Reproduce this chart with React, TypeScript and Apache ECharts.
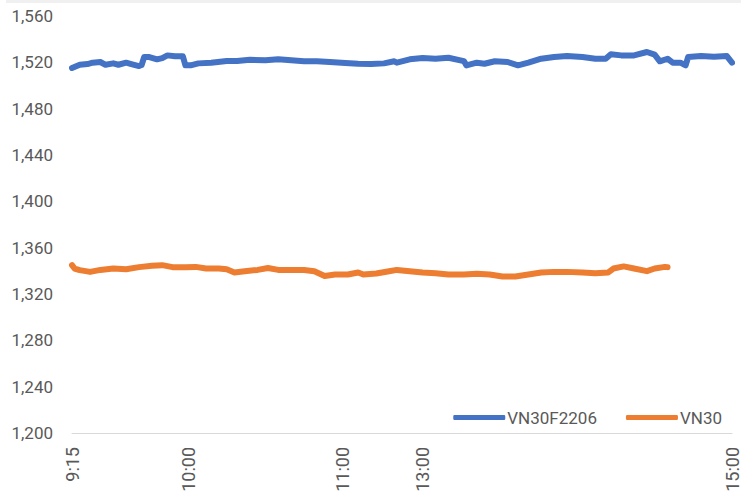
import React, { useEffect, useRef } from "react";
import * as echarts from "echarts";

// Trading sessions (category axis: one category per minute)
const morningSession = ["9:15", "11:30"];
const afternoonSession = ["13:00", "15:00"];
const shownTicks = ["9:15", "10:00", "11:00", "13:00", "15:00"];

// Y axis ticks
const yMin = 1200;
const yMax = 1560;
const yStep = 40;

// VN30F2206 (blue)
const futTimes = [
  "9:15", "9:18", "9:21", "9:23", "9:26", "9:28", "9:31", "9:33", "9:36", "9:38",
  "9:41", "9:42", "9:43", "9:45", "9:48", "9:50", "9:52", "9:55", "9:58", "9:59",
  "10:01", "10:04", "10:09", "10:15", "10:19", "10:24", "10:30", "10:35", "10:40", "10:45",
  "10:50", "10:55", "11:01", "11:06", "11:11", "11:16", "11:20", "11:21", "11:26", "13:00",
  "13:05", "13:10", "13:16", "13:17", "13:21", "13:24", "13:28", "13:33", "13:37", "13:41",
  "13:46", "13:51", "13:56", "14:02", "14:07", "14:11", "14:13", "14:17", "14:22", "14:27",
  "14:30", "14:32", "14:35", "14:37", "14:40", "14:42", "14:43", "14:48", "14:53", "14:58",
  "15:00",
];
const futValues = [
  1515.1, 1517.9, 1518.5, 1519.7, 1520.3, 1517.9, 1519.1, 1517.9, 1519.7, 1518.5,
  1516.8, 1517.7, 1524.6, 1524.6, 1522.6, 1523.7, 1526.0, 1525.2, 1525.2, 1517.4,
  1517.4, 1519.1, 1519.7, 1521.1, 1521.1, 1522.2, 1521.7, 1522.6, 1521.7, 1520.9,
  1520.9, 1520.3, 1519.4, 1518.8, 1518.5, 1519.1, 1520.9, 1519.7, 1522.6, 1523.7,
  1523.1, 1524.0, 1521.1, 1517.4, 1519.7, 1518.8, 1520.9, 1520.3, 1517.4, 1519.7,
  1523.1, 1524.6, 1525.4, 1524.6, 1523.1, 1523.1, 1526.9, 1526.0, 1526.0, 1528.9,
  1526.6, 1520.9, 1523.1, 1519.7, 1519.7, 1517.4, 1524.6, 1525.4, 1524.8, 1525.4,
  1519.7,
];

// VN30 (orange)
const idxTimes = [
  "9:15", "9:16", "9:18", "9:22", "9:26", "9:31", "9:36", "9:41", "9:46", "9:50",
  "9:54", "9:59", "10:03", "10:07", "10:12", "10:15", "10:18", "10:22", "10:27", "10:31",
  "10:35", "10:40", "10:45", "10:49", "10:53", "10:57", "11:02", "11:06", "11:08", "11:13",
  "11:18", "11:21", "11:26", "13:00", "13:05", "13:10", "13:16", "13:21", "13:26", "13:31",
  "13:36", "13:41", "13:46", "13:51", "13:56", "14:02", "14:07", "14:12", "14:14", "14:18",
  "14:22", "14:27", "14:30", "14:34", "14:35",
];
const idxValues = [
  1344.9, 1342.0, 1340.6, 1339.1, 1340.8, 1342.0, 1341.4, 1343.2, 1344.3, 1344.9,
  1343.2, 1343.2, 1343.4, 1342.0, 1342.0, 1341.4, 1338.6, 1339.7, 1340.8, 1342.5,
  1340.8, 1340.8, 1340.8, 1339.7, 1335.6, 1336.8, 1336.8, 1338.6, 1336.8, 1337.7,
  1339.7, 1340.8, 1339.7, 1338.6, 1338.0, 1336.8, 1336.8, 1337.4, 1336.8, 1335.1,
  1335.1, 1336.8, 1338.6, 1339.1, 1339.1, 1338.6, 1338.0, 1338.6, 1342.0, 1343.8,
  1342.0, 1339.7, 1342.0, 1343.4, 1343.2,
];

const seriesNames = ["VN30F2206", "VN30"];
const seriesColors = ["#4472C4", "#ED7D31"];

function toMin(t: string): number {
  const [h, m] = t.split(":").map(Number);
  return h * 60 + m;
}
function fmt(m: number): string {
  const h = Math.floor(m / 60);
  const mm = m % 60;
  return `${h}:${mm < 10 ? "0" : ""}${mm}`;
}
function sessionMinutes(s: string[]): string[] {
  const out: string[] = [];
  for (let m = toMin(s[0]); m <= toMin(s[1]); m++) out.push(fmt(m));
  return out;
}

const categories = [...sessionMinutes(morningSession), ...sessionMinutes(afternoonSession)];

export default function App() {
  const ref = useRef<HTMLDivElement>(null);
  useEffect(() => {
    document.body.style.margin = "0";
    if (!ref.current) return;
    const chart = echarts.init(ref.current, null, { renderer: "svg" });
    const font = "Roboto";
    chart.setOption({
      animation: false,
      backgroundColor: "#ffffff",
      textStyle: { fontFamily: font },
      graphic: [
        {
          type: "rect",
          shape: { x: 6, y: 0, width: 735, height: 3 },
          style: { fill: "#f0f0f0" },
          silent: true,
        },
      ],
      grid: { left: 72, right: 1, top: 16, bottom: 66, containLabel: false },
      legend: {
        right: 14,
        top: 404,
        icon: "roundRect",
        itemWidth: 52,
        itemHeight: 5,
        itemGap: 29,
        data: seriesNames,
        textStyle: { color: "#595959", fontSize: 17, fontFamily: font, padding: [0, 0, 0, -3] },
      },
      xAxis: {
        type: "category",
        data: categories,
        boundaryGap: false,
        axisLine: { show: true, lineStyle: { color: "#d9d9d9", width: 1 } },
        axisTick: { show: false },
        splitLine: { show: false },
        axisLabel: {
          rotate: 90,
          margin: 14,
          color: "#595959",
          fontSize: 18,
          fontFamily: font,
          interval: (_i: number, v: string) => shownTicks.includes(v),
        },
      },
      yAxis: {
        type: "value",
        min: yMin,
        max: yMax,
        interval: yStep,
        axisLine: { show: false },
        axisTick: { show: false },
        splitLine: { show: false },
        axisLabel: {
          margin: 19,
          color: "#595959",
          fontSize: 17,
          fontFamily: font,
          formatter: (v: number) => v.toLocaleString("en-US"),
        },
      },
      series: [
        {
          name: seriesNames[0],
          type: "line",
          symbol: "none",
          data: futTimes.map((t, i) => [t, futValues[i]]),
          lineStyle: { color: seriesColors[0], width: 6, cap: "round", join: "round" },
          itemStyle: { color: seriesColors[0] },
        },
        {
          name: seriesNames[1],
          type: "line",
          symbol: "none",
          data: idxTimes.map((t, i) => [t, idxValues[i]]),
          lineStyle: { color: seriesColors[1], width: 6, cap: "round", join: "round" },
          itemStyle: { color: seriesColors[1] },
        },
      ],
    });
    return () => chart.dispose();
  }, []);
  return <div ref={ref} style={{ width: 741, height: 499 }} />;
}
